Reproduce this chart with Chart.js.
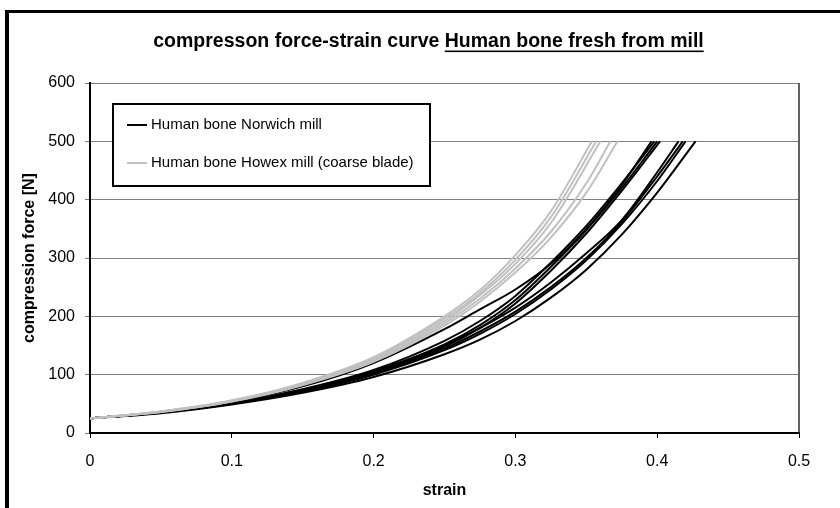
<!DOCTYPE html>
<html><head><meta charset="utf-8">
<script src="https://cdn.jsdelivr.net/npm/chart.js@4.4.1/dist/chart.umd.min.js"></script>
<style>html,body{margin:0;padding:0;background:#fff}#wrap{width:840px;height:508px;position:relative}</style>
</head><body><div id="wrap"><canvas id="c" width="840" height="508"></canvas></div>
<script>
const chartTitle = 'compresson force-strain curve ';
const chartTitleUnderlined = 'Human bone fresh from mill';
const xAxisTitle = 'strain';
const yAxisTitle = 'compression force [N]';
const seriesNames = ['Human bone Norwich mill', 'Human bone Howex mill (coarse blade)'];
const xTickValues = [0, 0.1, 0.2, 0.3, 0.4, 0.5];
const yTickValues = [0, 100, 200, 300, 400, 500, 600];

// Norwich mill curves: [strain, force N]
const norwich1 = [[0,25],[0.05,36],[0.1,53],[0.15,80],[0.2,120],[0.25,178],[0.275,212],[0.3,246],[0.325,290],[0.35,350],[0.375,425],[0.396,500]];
const norwich2 = [[0,25],[0.05,36],[0.1,51],[0.15,75],[0.2,108],[0.25,158],[0.275,192],[0.3,235],[0.325,292],[0.35,355],[0.375,428],[0.398,500]];
const norwich3 = [[0,25],[0.05,35],[0.1,51],[0.15,73],[0.2,105],[0.25,152],[0.275,185],[0.3,228],[0.325,285],[0.35,348],[0.375,420],[0.400,500]];
const norwich4 = [[0,25],[0.05,35],[0.1,50],[0.15,72],[0.2,103],[0.25,148],[0.275,180],[0.3,222],[0.325,278],[0.35,342],[0.375,415],[0.402,500]];
const norwich5 = [[0,25],[0.05,35],[0.1,51],[0.15,74],[0.2,106],[0.25,150],[0.275,180],[0.3,215],[0.325,258],[0.35,308],[0.375,365],[0.4,447],[0.415,500]];
const norwich6 = [[0,25],[0.05,35],[0.1,50],[0.15,72],[0.2,102],[0.25,145],[0.275,174],[0.3,208],[0.325,250],[0.35,300],[0.375,362],[0.4,440],[0.418,500]];
const norwich7 = [[0,25],[0.05,35],[0.1,50],[0.15,71],[0.2,100],[0.25,142],[0.275,170],[0.3,204],[0.325,246],[0.35,296],[0.375,358],[0.4,432],[0.420,500]];
const norwich8 = [[0,25],[0.05,34],[0.1,49],[0.15,69],[0.2,96],[0.25,135],[0.275,160],[0.3,192],[0.325,232],[0.35,280],[0.375,340],[0.4,412],[0.427,500]];

// Howex mill curves: [strain, force N]
const howex1 = [[0,25],[0.05,37],[0.1,56],[0.15,86],[0.2,130],[0.25,200],[0.275,245],[0.3,305],[0.325,380],[0.354,500]];
const howex2 = [[0,25],[0.05,37],[0.1,55],[0.15,85],[0.2,128],[0.25,196],[0.275,240],[0.3,297],[0.325,370],[0.357,500]];
const howex3 = [[0,25],[0.05,37],[0.1,55],[0.15,84],[0.2,126],[0.25,192],[0.275,236],[0.3,290],[0.325,360],[0.360,500]];
const howex4 = [[0,25],[0.05,36],[0.1,54],[0.15,83],[0.2,124],[0.25,188],[0.275,230],[0.3,282],[0.325,345],[0.35,428],[0.367,500]];
const howex5 = [[0,25],[0.05,36],[0.1,54],[0.15,82],[0.2,122],[0.25,184],[0.275,225],[0.3,275],[0.325,335],[0.35,412],[0.372,500]];

const norwichCurves = [norwich1, norwich2, norwich3, norwich4, norwich5, norwich6, norwich7, norwich8];
const howexCurves = [howex1, howex2, howex3, howex4, howex5];

const FONT = "'Liberation Sans', Arial, sans-serif";
const BLACK = '#000000';
const GREY = '#c0c0c0';

function toPoints(arr) { return arr.map(p => ({x: p[0], y: p[1]})); }
function makeDs(arr, name, color, order) {
  return { label: name, data: toPoints(arr), borderColor: color, backgroundColor: color,
    borderWidth: 2, pointRadius: 0, showLine: true, fill: false, tension: 0.4,
    cubicInterpolationMode: 'monotone', order: order };
}

const datasets = [];
norwichCurves.forEach(c => datasets.push(makeDs(c, seriesNames[0], BLACK, 2)));
howexCurves.forEach(c => datasets.push(makeDs(c, seriesNames[1], GREY, 1)));

const decor = {
  id: 'decor',
  afterDraw(chart) {
    const ctx = chart.ctx;
    const a = chart.chartArea;
    ctx.save();
    // outer frame
    ctx.fillStyle = '#000';
    ctx.fillRect(5, 10, 4, 498);
    ctx.fillRect(5, 10, 835, 3);
    // plot area right border
    ctx.strokeStyle = '#303030';
    ctx.lineWidth = 1.5;
    ctx.beginPath();
    ctx.moveTo(a.right, a.top);
    ctx.lineTo(a.right, a.bottom);
    ctx.stroke();
    // title
    ctx.font = 'bold 19.5px ' + FONT;
    ctx.fillStyle = '#000';
    ctx.textBaseline = 'alphabetic';
    const w1 = ctx.measureText(chartTitle).width;
    const w2 = ctx.measureText(chartTitleUnderlined).width;
    const x0 = 428.5 - (w1 + w2) / 2;
    ctx.textAlign = 'left';
    ctx.fillText(chartTitle, x0, 47);
    ctx.fillText(chartTitleUnderlined, x0 + w1, 47);
    ctx.fillRect(x0 + w1, 50.5, w2, 1.6);
    // legend
    const lx = 113, ly = 104, lw = 317, lh = 82;
    ctx.fillStyle = '#fff';
    ctx.fillRect(lx, ly, lw, lh);
    ctx.strokeStyle = '#000';
    ctx.lineWidth = 2;
    ctx.strokeRect(lx, ly, lw, lh);
    const items = [[seriesNames[0], BLACK, 125], [seriesNames[1], GREY, 163]];
    ctx.font = '15px ' + FONT;
    ctx.textBaseline = 'middle';
    items.forEach(it => {
      ctx.strokeStyle = it[1];
      ctx.lineWidth = 2;
      ctx.beginPath();
      ctx.moveTo(127, it[2]);
      ctx.lineTo(147, it[2]);
      ctx.stroke();
      ctx.fillStyle = '#000';
      ctx.fillText(it[0], 151, it[2]);
    });
    ctx.restore();
  }
};

new Chart(document.getElementById('c'), {
  type: 'scatter',
  data: { datasets },
  options: {
    responsive: false, animation: false, devicePixelRatio: 1,
    layout: { padding: { left: 16, right: 41, top: 83, bottom: 4 } },
    plugins: { legend: { display: false }, tooltip: { enabled: false }, title: { display: false } },
    scales: {
      x: {
        type: 'linear', min: 0, max: 0.5,
        afterBuildTicks: s => { s.ticks = xTickValues.map(v => ({value: v})); },
        afterFit: s => { s.height = 71; },
        ticks: { color: '#000', font: { family: FONT, size: 16 }, padding: 14, callback: v => String(v) },
        grid: { drawOnChartArea: false, color: '#000', tickLength: 5, lineWidth: 1 },
        border: { color: '#000', width: 2 },
        title: { display: true, text: xAxisTitle, color: '#000', font: { family: FONT, size: 16, weight: 'bold' }, padding: { top: 4, bottom: 4 } }
      },
      y: {
        type: 'linear', min: 0, max: 600,
        afterBuildTicks: s => { s.ticks = yTickValues.map(v => ({value: v})); },
        afterFit: s => { s.width = 74; },
        ticks: { color: '#000', font: { family: FONT, size: 16 }, padding: 10, callback: v => String(v) },
        grid: { color: '#808080', tickLength: 5, lineWidth: 1 },
        border: { color: '#000', width: 2 },
        title: { display: true, text: yAxisTitle, color: '#000', font: { family: FONT, size: 16, weight: 'bold' }, padding: { top: 4, bottom: 4 } }
      }
    }
  },
  plugins: [decor]
});
</script></body></html>
